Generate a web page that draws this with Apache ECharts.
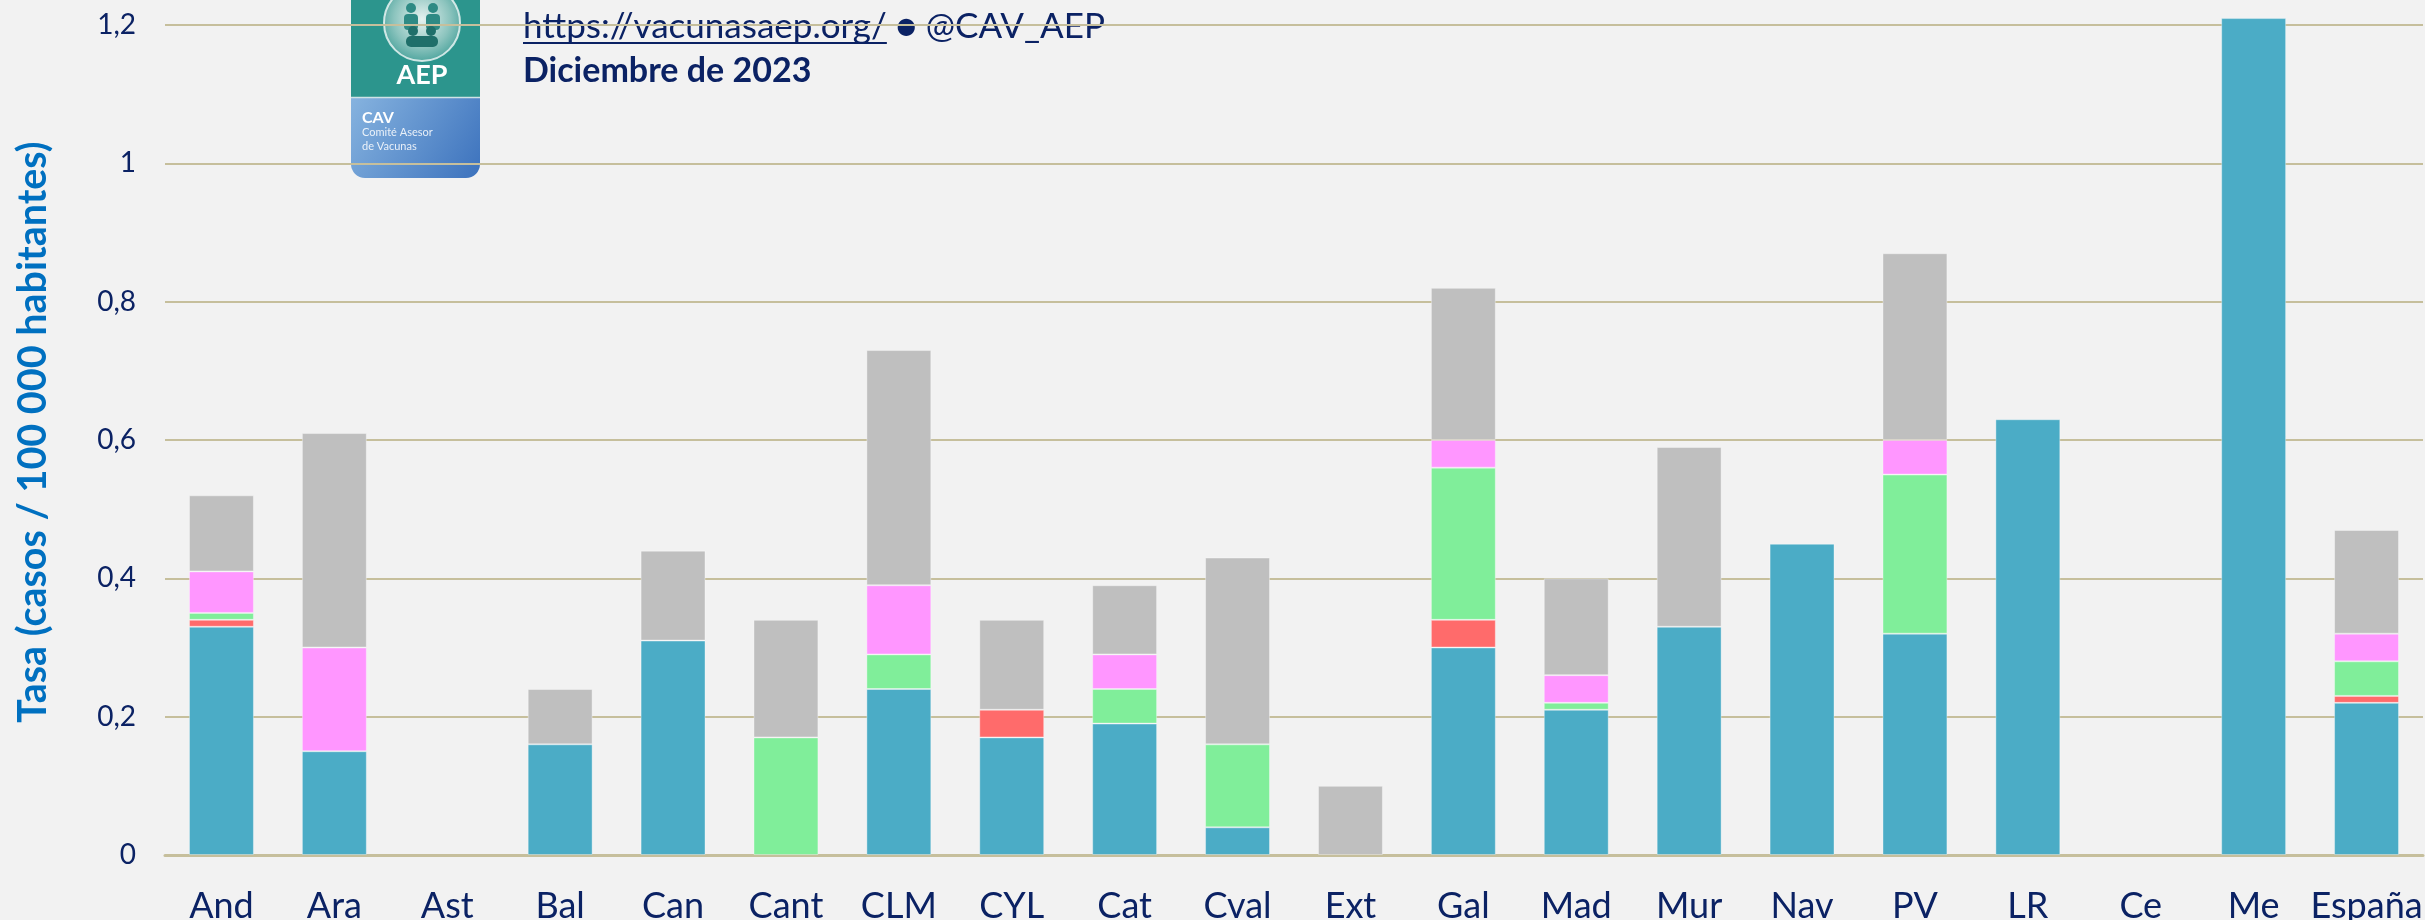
<!DOCTYPE html>
<html>
<head>
<meta charset="utf-8">
<script src="https://cdn.jsdelivr.net/npm/echarts@6/dist/echarts.min.js"></script>
<style>
html,body{margin:0;padding:0;background:#F2F2F2;}
#chart{width:2425px;height:920px;}
</style>
</head>
<body>
<div id="chart"></div>
<script>
// ---- Data ----
var categories = ['And','Ara','Ast','Bal','Can','Cant','CLM','CYL','Cat','Cval','Ext','Gal','Mad','Mur','Nav','PV','LR','Ce','Me','España'];
var serogrupoB = [0.33,0.15,0,0.16,0.31,0,0.24,0.17,0.19,0.04,0,0.30,0.21,0.33,0.45,0.32,0.63,0,1.21,0.22];
var serogrupoC = [0.01,0,0,0,0,0,0,0.04,0,0,0,0.04,0,0,0,0,0,0,0,0.01];
var serogrupoW = [0.01,0,0,0,0,0.17,0.05,0,0.05,0.12,0,0.22,0.01,0,0,0.23,0,0,0,0.05];
var serogrupoY = [0.06,0.15,0,0,0,0,0.10,0,0.05,0,0,0.04,0.04,0,0,0.05,0,0,0,0.04];
var otros = [0.11,0.31,0,0.08,0.13,0.17,0.34,0.13,0.10,0.27,0.10,0.22,0.14,0.26,0,0.27,0,0,0,0.15];
var yTicks = {min: 0, max: 1.2, interval: 0.2};

var seriesDefs = [
  {name: 'Serogrupo B', data: serogrupoB, color: '#4BACC6'},
  {name: 'Serogrupo C', data: serogrupoC, color: '#FF6B6B'},
  {name: 'Serogrupo W', data: serogrupoW, color: '#80EE9A'},
  {name: 'Serogrupo Y', data: serogrupoY, color: '#FF96FF'},
  {name: 'Otros / desconocido', data: otros, color: '#BFBFBF'}
];

var NAVY = '#0B2264';
var FONT = 'Lato';

var chart = echarts.init(document.getElementById('chart'), null, {renderer: 'canvas'});

function measure(text, size, weight) {
  var c = document.createElement('canvas').getContext('2d');
  c.font = (weight || 'normal') + ' ' + size + 'px ' + FONT;
  return c.measureText(text).width;
}

var linkText = 'https://vacunasaep.org/';
var linkSize = 35;
var linkX = 523;
var linkW = measure(linkText, linkSize);

var series = seriesDefs.map(function (s) {
  return {
    name: s.name,
    type: 'bar',
    stack: 'total',
    barWidth: '57.5%',
    clip: false,
    itemStyle: {color: s.color, borderColor: 'rgba(255,255,255,0.35)', borderWidth: 1},
    data: s.data.map(function (v) { return v === 0 ? '-' : v; })
  };
});

var option = {
  backgroundColor: '#F2F2F2',
  animation: false,
  grid: {left: 165, right: 2, top: 25, bottom: 65, containLabel: false, outerBoundsMode: 'none'},
  xAxis: {
    type: 'category',
    data: categories,
    axisLine: {show: true, lineStyle: {color: '#C6BF9C', width: 3}},
    axisTick: {show: false},
    axisLabel: {color: NAVY, fontFamily: FONT, fontSize: 36, margin: 33, interval: 0}
  },
  yAxis: {
    type: 'value',
    min: yTicks.min,
    max: yTicks.max,
    interval: yTicks.interval,
    axisLine: {show: false},
    axisTick: {show: false},
    splitLine: {lineStyle: {color: '#C6BF9C', width: 2}},
    axisLabel: {
      color: NAVY, fontFamily: FONT, fontSize: 28, margin: 29,
      formatter: function (v) { return String(Number(v.toFixed(1))).replace('.', ','); }
    }
  },
  series: series,
  graphic: [
    // y-axis title
    {
      type: 'text', x: 33, y: 432, rotation: Math.PI / 2,
      style: {text: 'Tasa (casos / 100 000 habitantes)', fill: '#0070C0', font: 'bold 39.5px ' + FONT,
              textAlign: 'center', textVerticalAlign: 'middle'}
    },
    // header text
    {
      type: 'text', x: linkX, y: 44,
      style: {text: linkText, fill: NAVY, font: linkSize + 'px ' + FONT, textVerticalAlign: 'bottom'}
    },
    {
      type: 'line', shape: {x1: linkX, y1: 43, x2: linkX + linkW, y2: 43},
      style: {stroke: NAVY, lineWidth: 2}
    },
    {
      type: 'text', x: linkX + linkW, y: 44,
      style: {text: ' \u25CF @CAV_AEP', fill: NAVY, font: linkSize + 'px ' + FONT, textVerticalAlign: 'bottom'}
    },
    {
      type: 'text', x: linkX, y: 88,
      style: {text: 'Diciembre de 2023', fill: NAVY, font: 'bold 34px ' + FONT, textVerticalAlign: 'bottom'}
    },
    // logo
    {
      type: 'group', x: 351, y: 0,
      children: [
        {type: 'rect', shape: {x: 0, y: 0, width: 129, height: 97}, style: {fill: '#2C958D'}},
        {type: 'rect', shape: {x: 0, y: 98, width: 129, height: 80, r: [0, 0, 14, 14]},
         style: {fill: new echarts.graphic.LinearGradient(0, 0, 1, 1, [
           {offset: 0, color: '#86B3DF'}, {offset: 1, color: '#3C72BD'}])}},
        {type: 'line', shape: {x1: 0, y1: 97.5, x2: 129, y2: 97.5}, style: {stroke: '#CFE3E6', lineWidth: 1.5}},
        {type: 'circle', shape: {cx: 71, cy: 23, r: 38},
         style: {fill: new echarts.graphic.RadialGradient(0.5, 0.45, 0.6, [
           {offset: 0, color: '#E6F2F0'}, {offset: 0.6, color: '#8CC4BE'}, {offset: 1, color: '#3F9D96'}]),
           stroke: 'rgba(255,255,255,0.75)', lineWidth: 2}},
        {type: 'circle', shape: {cx: 60, cy: 8, r: 5}, style: {fill: '#2E8A84'}},
        {type: 'circle', shape: {cx: 82, cy: 8, r: 5}, style: {fill: '#2E8A84'}},
        {type: 'rect', shape: {x: 53, y: 14, width: 14, height: 16, r: 4}, style: {fill: '#2E8A84'}},
        {type: 'rect', shape: {x: 75, y: 14, width: 14, height: 16, r: 4}, style: {fill: '#2E8A84'}},
        {type: 'circle', shape: {cx: 62, cy: 31, r: 5}, style: {fill: '#1F6F6A'}},
        {type: 'circle', shape: {cx: 80, cy: 31, r: 5}, style: {fill: '#1F6F6A'}},
        {type: 'rect', shape: {x: 55, y: 36, width: 32, height: 11, r: 5}, style: {fill: '#1F6F6A'}},
        {type: 'text', x: 71, y: 75,
         style: {text: 'AEP', fill: '#FFFFFF', font: 'bold 27px ' + FONT, textAlign: 'center', textVerticalAlign: 'middle'}},
        {type: 'text', x: 11, y: 118,
         style: {text: 'CAV', fill: '#FFFFFF', font: 'bold 16px ' + FONT, textVerticalAlign: 'middle'}},
        {type: 'text', x: 11, y: 132,
         style: {text: 'Comité Asesor', fill: 'rgba(255,255,255,0.85)', font: '11px ' + FONT, textVerticalAlign: 'middle'}},
        {type: 'text', x: 11, y: 146,
         style: {text: 'de Vacunas', fill: 'rgba(255,255,255,0.85)', font: '11px ' + FONT, textVerticalAlign: 'middle'}}
      ]
    }
  ]
};
chart.setOption(option);
</script>
</body>
</html>
